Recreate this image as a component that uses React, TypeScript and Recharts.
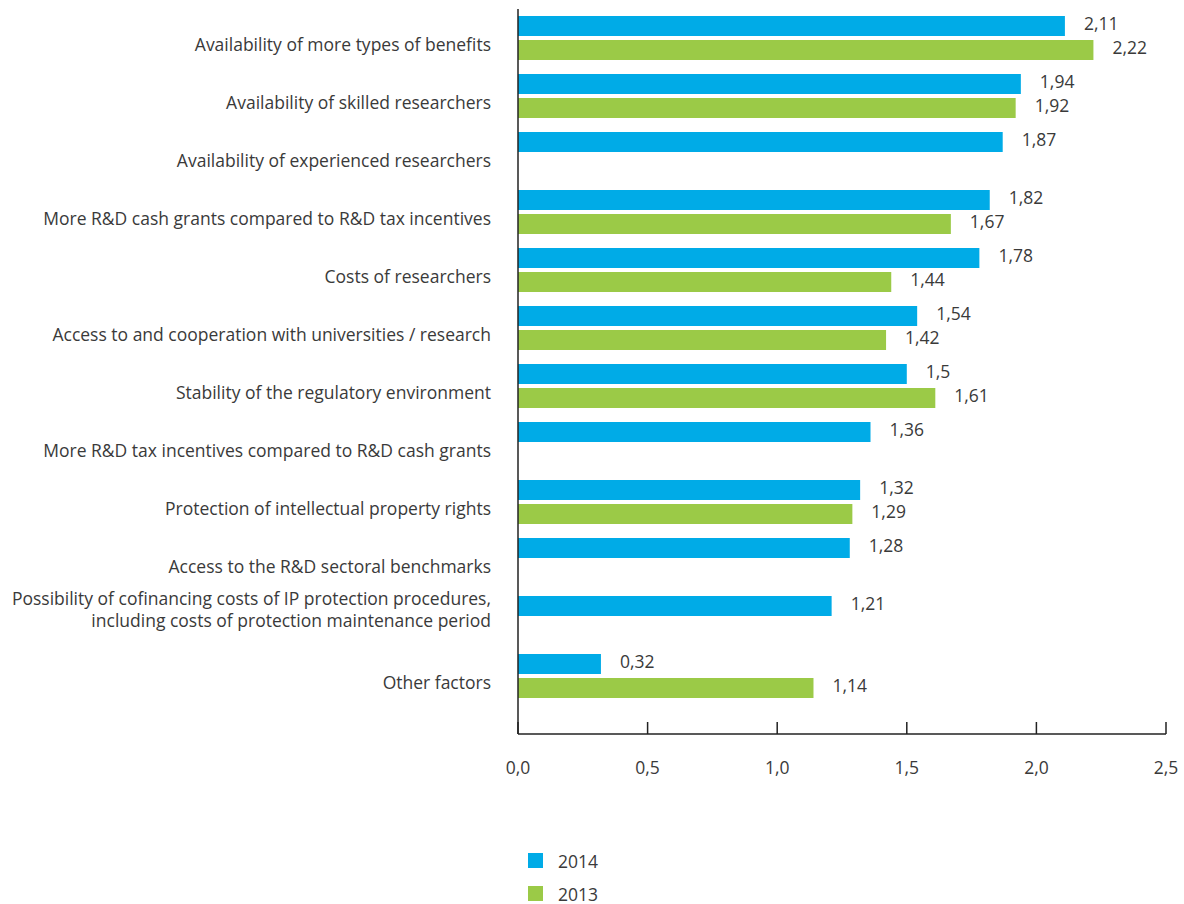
import React from "react";
import { BarChart, Bar, XAxis, YAxis, LabelList } from "recharts";

const factors = [
  "Availability of more types of benefits",
  "Availability of skilled researchers",
  "Availability of experienced researchers",
  "More R&D cash grants compared to R&D tax incentives",
  "Costs of researchers",
  "Access to and cooperation with universities / research",
  "Stability of the regulatory environment",
  "More R&D tax incentives compared to R&D cash grants",
  "Protection of intellectual property rights",
  "Access to the R&D sectoral benchmarks",
  "Possibility of cofinancing costs of IP protection procedures,\nincluding costs of protection maintenance period",
  "Other factors",
];

const values2014 = [2.11, 1.94, 1.87, 1.82, 1.78, 1.54, 1.5, 1.36, 1.32, 1.28, 1.21, 0.32];
const values2013 = [2.22, 1.92, null, 1.67, 1.44, 1.42, 1.61, null, 1.29, null, null, 1.14];

const xTicks = [0, 0.5, 1, 1.5, 2, 2.5];

const BLUE = "#00abe7";
const GREEN = "#9bca47";
const TEXT = "#3a3a3a";
const FONT = "'Open Sans', 'Noto Sans', sans-serif";
const FS = 17.5;

const data = factors.map((name, i) => ({
  name,
  y2014: values2014[i],
  y2013: values2013[i],
}));

const fmt = (v: number, digits?: number) =>
  (digits !== undefined ? v.toFixed(digits) : String(v)).replace(".", ",");

function CategoryTick(props: any) {
  const { x, y, payload } = props;
  const lines = String(payload.value).split("\n");
  const tx = x - 27;
  if (lines.length === 1) {
    return (
      <text x={tx} y={y + 6} textAnchor="end" dominantBaseline="central" fill={TEXT} fontSize={FS} fontFamily={FONT}>
        {lines[0]}
      </text>
    );
  }
  return (
    <text textAnchor="end" fill={TEXT} fontSize={FS} fontFamily={FONT}>
      {lines.map((l, i) => (
        <tspan key={i} x={tx} y={y - 20 + i * 22} dominantBaseline="central">
          {l}
        </tspan>
      ))}
    </text>
  );
}

function ValueTick(props: any) {
  const { x, y, payload } = props;
  return (
    <g>
      <line x1={x} x2={x} y1={y - 12} y2={y} stroke="#222" strokeWidth={1.5} />
      <text x={x} y={y + 33} textAnchor="middle" dominantBaseline="central" fill={TEXT} fontSize={FS} fontFamily={FONT}>
        {fmt(payload.value, 1)}
      </text>
    </g>
  );
}

function BarValue(props: any) {
  const { x, y, width, height, value } = props;
  if (value === null || value === undefined) return null;
  return (
    <text
      x={x + width + 19}
      y={y + height / 2 - 3}
      dominantBaseline="central"
      fill={TEXT}
      fontSize={FS}
      fontFamily={FONT}
    >
      {fmt(value)}
    </text>
  );
}

const legendItems = [
  { label: "2014", color: BLUE },
  { label: "2013", color: GREEN },
];

export default function App() {
  return (
    <div style={{ position: "absolute", left: 8, top: 8, width: 1176, height: 896, fontFamily: FONT }}>
      <BarChart
        layout="vertical"
        width={1176}
        height={896}
        data={data}
        margin={{ top: 1, right: 18, left: 0, bottom: 110 }}
        barSize={20}
        barGap={4}
      >
        <XAxis
          type="number"
          domain={[0, 2.5]}
          ticks={xTicks}
          height={60}
          tickSize={0}
          tickMargin={0}
          tickLine={false}
          axisLine={{ stroke: "#222", strokeWidth: 1.5 }}
          tick={<ValueTick />}
          interval={0}
        />
        <YAxis
          type="category"
          dataKey="name"
          width={510}
          tickSize={0}
          tickMargin={0}
          tickLine={false}
          axisLine={{ stroke: "#222", strokeWidth: 1.5 }}
          tick={<CategoryTick />}
          interval={0}
          padding={{ top: 0, bottom: 29 }}
        />
        <Bar dataKey="y2014" fill={BLUE} isAnimationActive={false}>
          <LabelList dataKey="y2014" content={<BarValue />} />
        </Bar>
        <Bar dataKey="y2013" fill={GREEN} isAnimationActive={false}>
          <LabelList dataKey="y2013" content={<BarValue />} />
        </Bar>
      </BarChart>
      <div style={{ position: "absolute", left: 520, top: 845 }}>
        {legendItems.map((it) => (
          <div key={it.label} style={{ display: "flex", alignItems: "center", height: 15, marginBottom: 18 }}>
            <div style={{ width: 15, height: 15, background: it.color }} />
            <span style={{ marginLeft: 15, fontSize: FS, color: TEXT }}>{it.label}</span>
          </div>
        ))}
      </div>
    </div>
  );
}
